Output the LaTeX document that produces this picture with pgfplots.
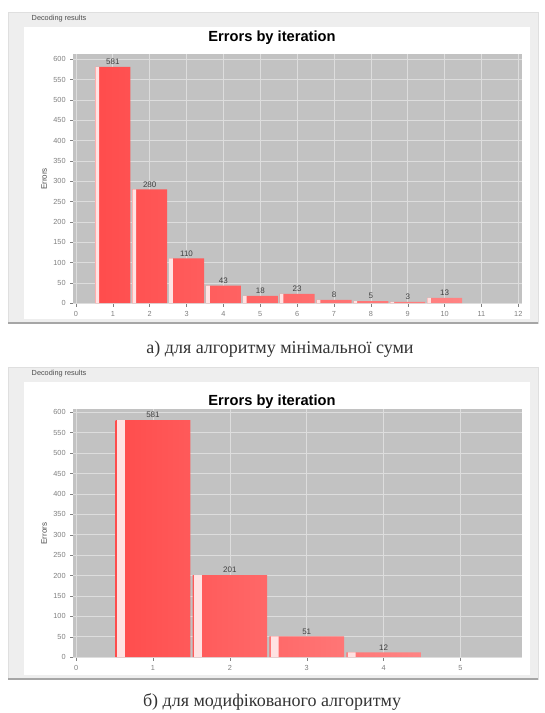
\documentclass[border=0pt]{standalone}
\usepackage{pgfplots}
\pgfplotsset{compat=1.18}
\usepackage{fontspec}
\setmainfont{Liberation Serif}
\newfontfamily\sans{Liberation Sans}
\definecolor{bg}{HTML}{C2C2C2}
\definecolor{barL}{HTML}{FF4C4C}
\definecolor{barR}{HTML}{FF8484}
\definecolor{stripe}{HTML}{FFE2E2}
\definecolor{panel}{HTML}{EEEEEE}
\begin{document}
\begin{tikzpicture}
\begin{scope}[x=0.75pt,y=0.75pt]
\path[use as bounding box] (0,0) rectangle (544,713);
% panel frames
\foreach \t/\b in {12/323, 367/679}{
  \fill[panel] (8,713-\t) rectangle (538,713-\b);
  \fill[white] (24,713-\t-15) rectangle (530,713-\b+4);
  \draw[gray!25, line width=0.6pt] (8,713-\t) rectangle (538,713-\b);
  \draw[gray!70, line width=1.2pt] (8,713-\b) -- (538,713-\b);
}
\node[anchor=west, font=\sans\fontsize{5.5}{6}\selectfont, text=black!70] at (27,713-19) {Decoding results};
\node[anchor=west, font=\sans\fontsize{5.5}{6}\selectfont, text=black!70] at (27,713-374) {Decoding results};
\node[font=\sans\bfseries\fontsize{11}{12}\selectfont] at (272,713-38) {Errors by iteration};
\node[font=\sans\bfseries\fontsize{11}{12}\selectfont] at (272,713-402) {Errors by iteration};
\node[font=\fontsize{13.5}{15}\selectfont, text=black!80] at (280,713-349) {а) для алгоритму мінімальної суми};
\node[font=\fontsize{13.5}{15}\selectfont, text=black!80] at (272,713-702) {б) для модифікованого алгоритму};
\end{scope}

\pgfplotsset{
  errstyle/.style={
    scale only axis, anchor=south west,
    axis background/.style={fill=bg},
    axis line style={draw=none},
    grid=major,
    major grid style={white!45!bg, line width=0.5pt},
    tick style={gray, line width=0.3pt},
    tick pos=left,
    tick align=outside, major tick length=2pt,
    ytick={0,50,...,600},
    ticklabel style={font=\sans\fontsize{5.5}{6}\selectfont, text=gray},
    /pgf/number format/assume math mode=true,
    ylabel={Errors},
    ylabel style={font=\sans\fontsize{6}{7}\selectfont, text=black!70, yshift=-2pt},
    ymin=-2,
    nodes near coords style={font=\sans\fontsize{6}{7}\selectfont, text=black!75, inner sep=1.5pt},
  }
}
% top chart
\begin{axis}[errstyle,
  at={(54.75pt,306.75pt)}, width=336.75pt, height=187.5pt,
  xmin=-0.08, xmax=12.1, xtick={0,...,12}, ymax=613]
\addplot[ybar, bar width=0.95, draw=none, left color=barL, right color=barR,
  nodes near coords] coordinates {(1,581) (2,280) (3,110) (4,43) (5,18) (6,23) (7,8) (8,5) (9,3) (10,13)};
\addplot[ybar, bar width=0.1, bar shift=-0.42, draw=none, fill=stripe]
  coordinates {(1,581) (2,280) (3,110) (4,43) (5,18) (6,23) (7,8) (8,5) (9,3) (10,13)};
\end{axis}
% bottom chart
\begin{axis}[errstyle,
  at={(54.75pt,41.25pt)}, width=336.75pt, height=186.75pt,
  xmin=-0.04, xmax=5.8, xtick={0,...,5}, ymax=608]
\addplot[ybar, bar width=0.97, draw=none, left color=barL, right color=barR,
  nodes near coords] coordinates {(1,581) (2,201) (3,51) (4,12)};
\addplot[ybar, bar width=0.1, bar shift=-0.415, draw=none, fill=stripe]
  coordinates {(1,581) (2,201) (3,51) (4,12)};
\end{axis}
\end{tikzpicture}
\end{document}
